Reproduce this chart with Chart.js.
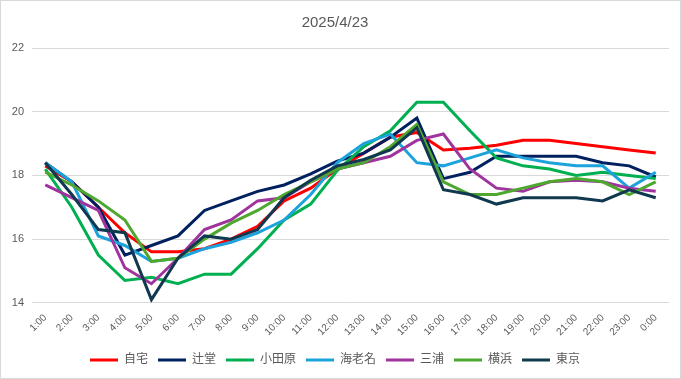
<!DOCTYPE html>
<html lang="ja">
<head>
  <meta charset="UTF-8">
  <script src="https://cdn.jsdelivr.net/npm/chart.js@4.4.0/dist/chart.umd.min.js"></script>
  <title>2025/4/23</title>
  <style>
    html, body { margin: 0; padding: 0; background: #fff; }
    #wrap { width: 681px; height: 379px; box-sizing: border-box; border: 1px solid #d9d9d9; }
  </style>
</head>
<body>
  <div id="wrap"><canvas id="chart" width="679" height="377"></canvas></div>

  <script>
    // time of day (x categories)
    const hours = ['1:00', '2:00', '3:00', '4:00', '5:00', '6:00', '7:00', '8:00', '9:00', '10:00', '11:00', '12:00',
                   '13:00', '14:00', '15:00', '16:00', '17:00', '18:00', '19:00', '20:00', '21:00', '22:00', '23:00', '0:00'];

    // temperatures per place
    const jitaku   = [18.3, 17.8, 17.0, 16.2, 15.6, 15.6, 15.7, 16.0, 16.4, 17.2, 17.6, 18.2, 18.7, 19.2, 19.35, 18.8, 18.85, 18.95, 19.1, 19.1, 19.0, 18.9, 18.8, 18.7];
    const tsujido  = [18.4, 17.8, 17.0, 15.5, 15.8, 16.1, 16.9, 17.2, 17.5, 17.7, 18.05, 18.45, 18.7, 19.2, 19.8, 17.9, 18.1, 18.6, 18.6, 18.6, 18.6, 18.4, 18.3, 17.95];
    const odawara  = [18.2, 17.0, 15.5, 14.7, 14.8, 14.6, 14.9, 14.9, 15.7, 16.6, 17.1, 18.15, 18.9, 19.4, 20.3, 20.3, 19.4, 18.55, 18.3, 18.2, 18.0, 18.1, 18.0, 17.9];
    const ebina    = [18.4, 17.8, 16.1, 15.8, 15.3, 15.4, 15.7, 15.9, 16.2, 16.6, 17.4, 18.4, 19.0, 19.3, 18.4, 18.3, 18.55, 18.8, 18.55, 18.4, 18.3, 18.3, 17.6, 18.1];
    const miura    = [17.7, 17.3, 16.9, 15.1, 14.6, 15.4, 16.3, 16.6, 17.2, 17.3, 17.8, 18.2, 18.4, 18.6, 19.1, 19.3, 18.2, 17.6, 17.5, 17.8, 17.85, 17.8, 17.6, 17.5];
    const yokohama = [18.1, 17.7, 17.2, 16.6, 15.3, 15.4, 16.0, 16.5, 16.9, 17.4, 17.8, 18.2, 18.4, 18.9, 19.6, 17.8, 17.4, 17.4, 17.6, 17.8, 17.9, 17.8, 17.4, 17.8];
    const tokyo    = [18.4, 17.4, 16.3, 16.2, 14.1, 15.4, 16.1, 16.0, 16.3, 17.3, 17.85, 18.3, 18.5, 18.8, 19.5, 17.55, 17.4, 17.1, 17.3, 17.3, 17.3, 17.2, 17.55, 17.3];

    const places = ['自宅', '辻堂', '小田原', '海老名', '三浦', '横浜', '東京'];
    const colors = ['#ff0000', '#002060', '#00b050', '#1ca3dc', '#a0349f', '#4ea72e', '#10384f'];
    const series = [jitaku, tsujido, odawara, ebina, miura, yokohama, tokyo];

    // y axis ticks
    const yMin = 14;
    const yMax = 22;
    const yStep = 2;

    const FONT = '"Liberation Sans", "Noto Sans CJK JP", sans-serif';
    const GRAY = '#595959';

    const datasets = series.map((values, i) => ({
      label: places[i],
      data: values,
      borderColor: colors[i],
      backgroundColor: colors[i],
      borderWidth: 3,
      pointRadius: 0,
      tension: 0,
      fill: false,
      order: series.length - i      // later series drawn on top, like Excel
    }));

    const elChart = document.getElementById('chart').getContext('2d');
    const myChart = new Chart(elChart, {
      type: 'line',
      data: { labels: hours, datasets: datasets },
      options: {
        responsive: false,
        animation: false,
        layout: { padding: { left: 0, right: 11, top: 0, bottom: 2 } },
        plugins: {
          title: {
            display: true,
            text: '2025/4/23',
            color: GRAY,
            font: { family: FONT, size: 15, weight: 'normal' },
            padding: { top: 13, bottom: 16 }
          },
          legend: {
            position: 'bottom',
            labels: {
              color: GRAY,
              font: { family: FONT, size: 12 },
              usePointStyle: true,
              pointStyle: 'line',
              pointStyleWidth: 28,
              padding: 10,
              sort: (a, b) => a.datasetIndex - b.datasetIndex
            }
          },
          tooltip: { enabled: false }
        },
        scales: {
          x: {
            offset: true,
            grid: { display: false },
            border: { display: false },
            ticks: {
              color: GRAY,
              font: { family: FONT, size: 10 },
              maxRotation: 45,
              minRotation: 45,
              autoSkip: false,
              padding: 1
            },
            afterFit: scale => { scale.height += 5; }
          },
          y: {
            min: yMin,
            max: yMax,
            grid: { color: '#d9d9d9', lineWidth: 1, drawTicks: false },
            border: { display: false },
            ticks: {
              stepSize: yStep,
              color: GRAY,
              font: { family: FONT, size: 11 },
              padding: 8
            },
            afterFit: scale => { scale.width = 31; }
          }
        }
      }
    });
  </script>
</body>
</html>
